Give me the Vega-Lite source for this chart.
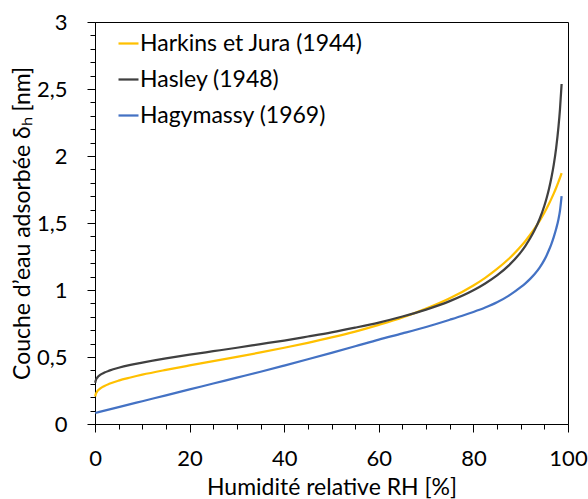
{
  "$schema": "https://vega.github.io/schema/vega-lite/v6.json",
  "width": 473,
  "height": 402,
  "autosize": {"type": "none"},
  "padding": {"left": 95, "top": 22, "right": 20, "bottom": 75},
  "background": "white",
  "config": {
    "font": "Lato",
    "view": {"stroke": "#000000", "strokeWidth": 1},
    "axis": {"grid": false, "domainColor": "#000000", "tickColor": "#000000", "labelColor": "#000000", "titleColor": "#000000", "labelFontSize": 22, "titleFontSize": 23, "titleFontWeight": "normal", "labelFont": "Lato", "titleFont": "Lato", "domainWidth": 1, "tickWidth": 1}
  },
  "data": {"values": [
    {"s": "Harkins et Jura (1944)", "x": 0.05, "y": 0.205},
    {"s": "Harkins et Jura (1944)", "x": 0.1, "y": 0.215},
    {"s": "Harkins et Jura (1944)", "x": 0.2, "y": 0.226},
    {"s": "Harkins et Jura (1944)", "x": 0.5, "y": 0.245},
    {"s": "Harkins et Jura (1944)", "x": 1, "y": 0.262},
    {"s": "Harkins et Jura (1944)", "x": 2, "y": 0.284},
    {"s": "Harkins et Jura (1944)", "x": 3, "y": 0.300},
    {"s": "Harkins et Jura (1944)", "x": 5, "y": 0.324},
    {"s": "Harkins et Jura (1944)", "x": 7.5, "y": 0.347},
    {"s": "Harkins et Jura (1944)", "x": 10, "y": 0.368},
    {"s": "Harkins et Jura (1944)", "x": 15, "y": 0.404},
    {"s": "Harkins et Jura (1944)", "x": 20, "y": 0.437},
    {"s": "Harkins et Jura (1944)", "x": 25, "y": 0.469},
    {"s": "Harkins et Jura (1944)", "x": 30, "y": 0.501},
    {"s": "Harkins et Jura (1944)", "x": 35, "y": 0.534},
    {"s": "Harkins et Jura (1944)", "x": 40, "y": 0.569},
    {"s": "Harkins et Jura (1944)", "x": 45, "y": 0.606},
    {"s": "Harkins et Jura (1944)", "x": 50, "y": 0.646},
    {"s": "Harkins et Jura (1944)", "x": 55, "y": 0.690},
    {"s": "Harkins et Jura (1944)", "x": 60, "y": 0.740},
    {"s": "Harkins et Jura (1944)", "x": 65, "y": 0.795},
    {"s": "Harkins et Jura (1944)", "x": 70, "y": 0.861},
    {"s": "Harkins et Jura (1944)", "x": 75, "y": 0.938},
    {"s": "Harkins et Jura (1944)", "x": 80, "y": 1.034},
    {"s": "Harkins et Jura (1944)", "x": 82.5, "y": 1.091},
    {"s": "Harkins et Jura (1944)", "x": 85, "y": 1.157},
    {"s": "Harkins et Jura (1944)", "x": 87.5, "y": 1.233},
    {"s": "Harkins et Jura (1944)", "x": 90, "y": 1.324},
    {"s": "Harkins et Jura (1944)", "x": 91, "y": 1.366},
    {"s": "Harkins et Jura (1944)", "x": 92, "y": 1.412},
    {"s": "Harkins et Jura (1944)", "x": 93, "y": 1.461},
    {"s": "Harkins et Jura (1944)", "x": 94, "y": 1.516},
    {"s": "Harkins et Jura (1944)", "x": 95, "y": 1.577},
    {"s": "Harkins et Jura (1944)", "x": 95.5, "y": 1.610},
    {"s": "Harkins et Jura (1944)", "x": 96, "y": 1.645},
    {"s": "Harkins et Jura (1944)", "x": 96.5, "y": 1.682},
    {"s": "Harkins et Jura (1944)", "x": 97, "y": 1.721},
    {"s": "Harkins et Jura (1944)", "x": 97.5, "y": 1.763},
    {"s": "Harkins et Jura (1944)", "x": 98, "y": 1.809},
    {"s": "Harkins et Jura (1944)", "x": 98.3, "y": 1.837},
    {"s": "Harkins et Jura (1944)", "x": 98.65, "y": 1.873},
    {"s": "Hasley (1948)", "x": 0.05, "y": 0.308},
    {"s": "Hasley (1948)", "x": 0.1, "y": 0.318},
    {"s": "Hasley (1948)", "x": 0.2, "y": 0.329},
    {"s": "Hasley (1948)", "x": 0.5, "y": 0.347},
    {"s": "Hasley (1948)", "x": 1, "y": 0.364},
    {"s": "Hasley (1948)", "x": 2, "y": 0.384},
    {"s": "Hasley (1948)", "x": 3, "y": 0.398},
    {"s": "Hasley (1948)", "x": 5, "y": 0.420},
    {"s": "Hasley (1948)", "x": 7.5, "y": 0.441},
    {"s": "Hasley (1948)", "x": 10, "y": 0.458},
    {"s": "Hasley (1948)", "x": 15, "y": 0.489},
    {"s": "Hasley (1948)", "x": 20, "y": 0.517},
    {"s": "Hasley (1948)", "x": 25, "y": 0.543},
    {"s": "Hasley (1948)", "x": 30, "y": 0.569},
    {"s": "Hasley (1948)", "x": 35, "y": 0.596},
    {"s": "Hasley (1948)", "x": 40, "y": 0.623},
    {"s": "Hasley (1948)", "x": 45, "y": 0.653},
    {"s": "Hasley (1948)", "x": 50, "y": 0.684},
    {"s": "Hasley (1948)", "x": 55, "y": 0.719},
    {"s": "Hasley (1948)", "x": 60, "y": 0.757},
    {"s": "Hasley (1948)", "x": 65, "y": 0.802},
    {"s": "Hasley (1948)", "x": 70, "y": 0.854},
    {"s": "Hasley (1948)", "x": 75, "y": 0.917},
    {"s": "Hasley (1948)", "x": 80, "y": 0.998},
    {"s": "Hasley (1948)", "x": 82.5, "y": 1.049},
    {"s": "Hasley (1948)", "x": 85, "y": 1.109},
    {"s": "Hasley (1948)", "x": 87.5, "y": 1.184},
    {"s": "Hasley (1948)", "x": 90, "y": 1.281},
    {"s": "Hasley (1948)", "x": 91, "y": 1.330},
    {"s": "Hasley (1948)", "x": 92, "y": 1.386},
    {"s": "Hasley (1948)", "x": 93, "y": 1.451},
    {"s": "Hasley (1948)", "x": 94, "y": 1.530},
    {"s": "Hasley (1948)", "x": 95, "y": 1.629},
    {"s": "Hasley (1948)", "x": 95.5, "y": 1.689},
    {"s": "Hasley (1948)", "x": 96, "y": 1.758},
    {"s": "Hasley (1948)", "x": 96.5, "y": 1.840},
    {"s": "Hasley (1948)", "x": 97, "y": 1.938},
    {"s": "Hasley (1948)", "x": 97.5, "y": 2.061},
    {"s": "Hasley (1948)", "x": 98, "y": 2.223},
    {"s": "Hasley (1948)", "x": 98.3, "y": 2.347},
    {"s": "Hasley (1948)", "x": 98.65, "y": 2.537},
    {"s": "Hagymassy (1969)", "x": 0.05, "y": 0.082},
    {"s": "Hagymassy (1969)", "x": 5, "y": 0.126},
    {"s": "Hagymassy (1969)", "x": 10, "y": 0.170},
    {"s": "Hagymassy (1969)", "x": 15, "y": 0.214},
    {"s": "Hagymassy (1969)", "x": 20, "y": 0.258},
    {"s": "Hagymassy (1969)", "x": 25, "y": 0.302},
    {"s": "Hagymassy (1969)", "x": 30, "y": 0.346},
    {"s": "Hagymassy (1969)", "x": 35, "y": 0.390},
    {"s": "Hagymassy (1969)", "x": 40, "y": 0.436},
    {"s": "Hagymassy (1969)", "x": 45, "y": 0.483},
    {"s": "Hagymassy (1969)", "x": 50, "y": 0.531},
    {"s": "Hagymassy (1969)", "x": 55, "y": 0.580},
    {"s": "Hagymassy (1969)", "x": 60, "y": 0.630},
    {"s": "Hagymassy (1969)", "x": 65, "y": 0.676},
    {"s": "Hagymassy (1969)", "x": 70, "y": 0.724},
    {"s": "Hagymassy (1969)", "x": 75, "y": 0.778},
    {"s": "Hagymassy (1969)", "x": 77.5, "y": 0.806},
    {"s": "Hagymassy (1969)", "x": 80, "y": 0.836},
    {"s": "Hagymassy (1969)", "x": 82.5, "y": 0.869},
    {"s": "Hagymassy (1969)", "x": 85, "y": 0.908},
    {"s": "Hagymassy (1969)", "x": 87.5, "y": 0.958},
    {"s": "Hagymassy (1969)", "x": 90, "y": 1.021},
    {"s": "Hagymassy (1969)", "x": 91, "y": 1.050},
    {"s": "Hagymassy (1969)", "x": 92, "y": 1.083},
    {"s": "Hagymassy (1969)", "x": 93, "y": 1.121},
    {"s": "Hagymassy (1969)", "x": 94, "y": 1.167},
    {"s": "Hagymassy (1969)", "x": 95, "y": 1.225},
    {"s": "Hagymassy (1969)", "x": 95.5, "y": 1.260},
    {"s": "Hagymassy (1969)", "x": 96, "y": 1.300},
    {"s": "Hagymassy (1969)", "x": 96.5, "y": 1.345},
    {"s": "Hagymassy (1969)", "x": 97, "y": 1.397},
    {"s": "Hagymassy (1969)", "x": 97.5, "y": 1.457},
    {"s": "Hagymassy (1969)", "x": 98, "y": 1.530},
    {"s": "Hagymassy (1969)", "x": 98.3, "y": 1.590},
    {"s": "Hagymassy (1969)", "x": 98.65, "y": 1.700}
  ]},
  "mark": {"type": "line", "strokeWidth": 2.25, "interpolate": "monotone"},
  "encoding": {
    "x": {
      "field": "x", "type": "quantitative",
      "scale": {"domain": [0, 100], "nice": false, "zero": false},
      "axis": {
        "title": "Humidité relative RH [%]",
        "values": [0,5,10,15,20,25,30,35,40,45,50,55,60,65,70,75,80,85,90,95,100],
        "labelExpr": "datum.value % 20 == 0 ? datum.label : ''",
        "tickSize": {"condition": {"test": "datum.value % 20 == 0", "value": 8}, "value": 5},
        "labelFlush": false,
        "labelOverlap": false,
        "labelBound": false,
        "labelPadding": 16,
        "titlePadding": 7
      }
    },
    "y": {
      "field": "y", "type": "quantitative",
      "scale": {"domain": [0, 3], "nice": false},
      "axis": {
        "title": "Couche d’eau adsorbée δₕ [nm]",
        "values": [0,0.1,0.2,0.3,0.4,0.5,0.6,0.7,0.8,0.9,1,1.1,1.2,1.3,1.4,1.5,1.6,1.7,1.8,1.9,2,2.1,2.2,2.3,2.4,2.5,2.6,2.7,2.8,2.9,3],
        "labelExpr": "abs(datum.value*2 - round(datum.value*2)) < 0.001 ? replace(toString(datum.value), '.', ',') : ''",
        "tickSize": {"condition": {"test": "abs(datum.value*2 - round(datum.value*2)) < 0.001", "value": 8}, "value": 5},
        "labelOverlap": false,
        "labelPadding": 20,
        "titlePadding": 2
      }
    },
    "color": {
      "field": "s", "type": "nominal",
      "scale": {"domain": ["Harkins et Jura (1944)", "Hasley (1948)", "Hagymassy (1969)"], "range": ["#FFC000", "#404040", "#4472C4"]},
      "legend": {
        "title": null,
        "orient": "none",
        "legendX": 22,
        "legendY": 10,
        "padding": 0,
        "labelFontSize": 23,
        "labelColor": "#000000",
        "labelFont": "Lato",
        "labelOffset": 0,
        "symbolType": "stroke",
        "symbolSize": 400,
        "symbolStrokeWidth": 2.25,
        "rowPadding": 12,
        "labelLimit": 400
      }
    }
  }
}
